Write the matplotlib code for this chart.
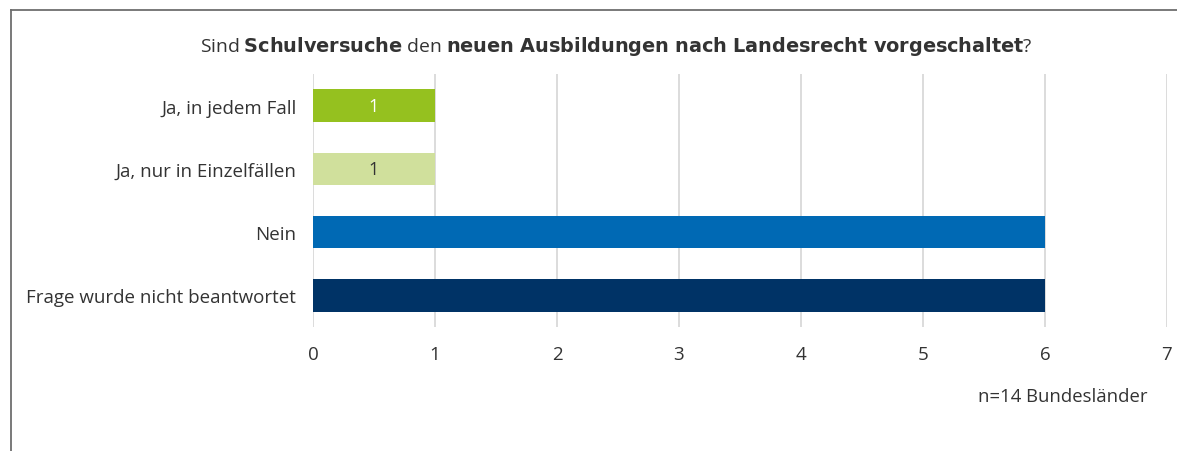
import matplotlib
matplotlib.use("Agg")
import matplotlib.pyplot as plt
from matplotlib.lines import Line2D

plt.rcParams["font.family"] = ["Open Sans", "DejaVu Sans"]

categories = [
    "Ja, in jedem Fall",
    "Ja, nur in Einzelfällen",
    "Nein",
    "Frage wurde nicht beantwortet",
]
values = [1, 1, 6, 6]
value_labels = ["1", "1", "", ""]
bar_colors = ["#95C11F", "#D0E09C", "#0069B4", "#003366"]
label_colors = ["#FFFFFF", "#333333", "#FFFFFF", "#FFFFFF"]
x_ticks = [0, 1, 2, 3, 4, 5, 6, 7]

W, H = 1177, 452
fig = plt.figure(figsize=(W / 100, H / 100), dpi=100)
ax = fig.add_axes([313 / W, 1 - 328 / H, (1167 - 313) / W, (328 - 75) / H])

ypos = list(range(len(categories)))
ax.barh(ypos, values, height=0.51, color=bar_colors, zorder=3)
for y, v, lab, c in zip(ypos, values, value_labels, label_colors):
    if lab:
        ax.text(v / 2, y, lab, ha="center", va="center", fontsize=13, color=c, zorder=4)

ax.set_xlim(0, 7)
ax.set_ylim(len(categories) - 0.5, -0.5)
ax.set_xticks(x_ticks)
ax.set_xticklabels([str(t) for t in x_ticks], fontsize=13.5, color="#333333")
ax.set_yticks(ypos)
ax.set_yticklabels(categories, fontsize=13.5, color="#333333")
ax.tick_params(axis="both", length=0)
ax.tick_params(axis="x", pad=13)
ax.tick_params(axis="y", pad=12)
ax.grid(axis="x", color="#D9D9D9", linewidth=1.3, zorder=0)
for s in ax.spines.values():
    s.set_visible(False)

fig.text(
    0.5 * (200 + 1032) / W, 1 - 46 / H,
    r"Sind $\bf{Schulversuche}$ den $\bf{neuen\ Ausbildungen\ nach\ Landesrecht\ vorgeschaltet}$?",
    ha="center", va="center", fontsize=13.9, color="#333333",
)
fig.text(1147 / W, 1 - 397 / H, "n=14 Bundesländer", ha="right", va="center",
         fontsize=13.3, color="#333333")

# outer frame (left and top edge visible)
fig.add_artist(Line2D([10.5 / W, 10.5 / W], [0, 1 - 11 / H], transform=fig.transFigure,
                      color="#6E6E6E", linewidth=1.3))
fig.add_artist(Line2D([10.5 / W, 1], [1 - 11 / H, 1 - 11 / H], transform=fig.transFigure,
                      color="#6E6E6E", linewidth=1.3))

fig.savefig("out.png", dpi=100, facecolor="white")
